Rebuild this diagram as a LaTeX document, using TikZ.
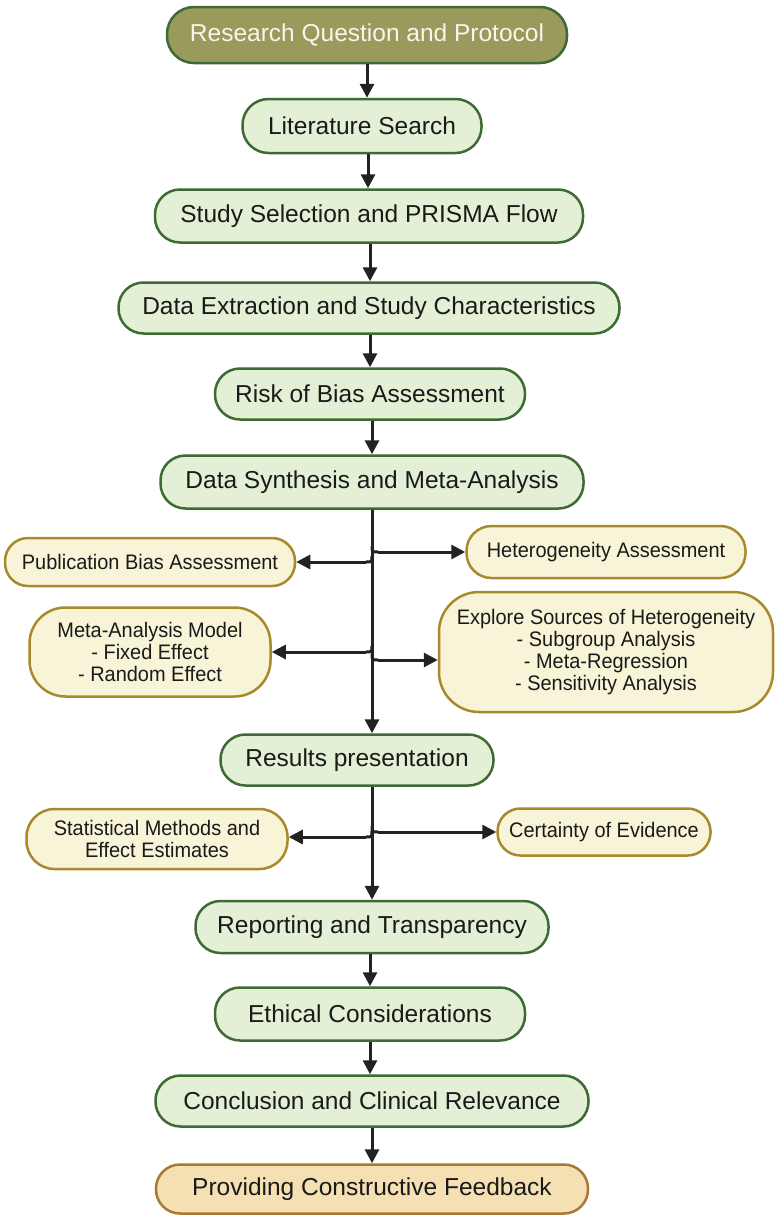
\documentclass[tikz,border=0pt]{standalone}
\usepackage{fontspec}
\setmainfont{Liberation Sans}
\newfontfamily\mainf{Liberation Sans}
\newfontfamily\sidef[FakeStretch=0.95]{Liberation Sans}
\usetikzlibrary{arrows.meta}
\definecolor{mainfill}{HTML}{E3F0D5}
\definecolor{mainborder}{HTML}{3E6B34}
\definecolor{topfill}{HTML}{9B9A5D}
\definecolor{sidefill}{HTML}{F8F4D8}
\definecolor{sideborder}{HTML}{A88A2C}
\definecolor{botfill}{HTML}{F4E0B3}
\definecolor{botborder}{HTML}{A97835}
\definecolor{arrc}{HTML}{222222}
\definecolor{textc}{HTML}{1A1A1A}
\definecolor{toptext}{HTML}{F6F6EC}
\begin{document}
\begin{tikzpicture}[x=1pt,y=-1pt,
 box/.style={draw=mainborder, fill=mainfill, line width=2.5pt, rounded corners=25pt, inner sep=0pt,
   font=\mainf\fontsize{24.5}{27}\selectfont, text=textc, align=center},
 side/.style={draw=sideborder, fill=sidefill, line width=2.5pt, rounded corners=23pt, inner sep=0pt,
   font=\sidef\fontsize{21}{22.2}\selectfont, text=textc, align=center},
 arr/.style={draw=arrc, line width=3pt, -{Triangle[length=14pt,width=14pt]}},
 lnk/.style={draw=arrc, line width=3pt}
]
\useasboundingbox (0,0) rectangle (780,1218);
\fill[white] (0,0) rectangle (780,1218);

\node[box, fill=topfill, text=toptext, minimum width=400pt, minimum height=56pt, rounded corners=27pt] (top) at (367,35) {Research Question and Protocol};
\node[box, minimum width=239pt, minimum height=54pt, rounded corners=26pt] (lit) at (362,126) {Literature Search};
\node[box, minimum width=428pt, minimum height=53pt] (sel) at (369,216) {Study Selection and PRISMA Flow};
\node[box, minimum width=501pt, minimum height=51pt] (ext) at (369,308) {Data Extraction and Study Characteristics};
\node[box, minimum width=310pt, minimum height=51pt] (rob) at (370,394) {Risk of Bias Assessment};
\node[box, minimum width=423pt, minimum height=53pt] (syn) at (372,482) {Data Synthesis and Meta-Analysis};

\node[side, minimum width=290pt, minimum height=48pt] (pub) at (150,562) {Publication Bias Assessment};
\node[side, minimum width=279pt, minimum height=52pt, rounded corners=25pt] (het) at (606,552) {Heterogeneity Assessment};
\node[side, minimum width=241pt, minimum height=89pt, rounded corners=36pt] (mam) at (150,652) {Meta-Analysis Model\\- Fixed Effect\\- Random Effect};
\node[side, minimum width=334pt, minimum height=120pt, rounded corners=40pt] (exp) at (606,652) {Explore Sources of Heterogeneity\\- Subgroup Analysis\\- Meta-Regression\\- Sensitivity Analysis};

\node[box, minimum width=273pt, minimum height=51pt] (res) at (357,760) {Results presentation};
\node[side, minimum width=261pt, minimum height=60pt, rounded corners=28pt] (stat) at (157,839) {Statistical Methods and\\Effect Estimates};
\node[side, minimum width=213pt, minimum height=47pt] (cert) at (604,832) {Certainty of Evidence};

\node[box, minimum width=353pt, minimum height=52pt] (rep) at (372,927) {Reporting and Transparency};
\node[box, minimum width=310pt, minimum height=53pt] (eth) at (370,1014) {Ethical Considerations};
\node[box, minimum width=433pt, minimum height=51pt] (con) at (372,1101) {Conclusion and Clinical Relevance};
\node[box, fill=botfill, draw=botborder, minimum width=432pt, minimum height=49pt, rounded corners=24pt] (fb) at (372,1189) {Providing Constructive Feedback};

% main chain
\draw[arr] (top.south) -- (top.south |- lit.north);
\draw[arr] ([xshift=6pt]lit.south) -- ([xshift=6pt]lit.south |- sel.north);
\draw[arr] ([xshift=1pt]sel.south) -- ([xshift=1pt]sel.south |- ext.north);
\draw[arr] ([xshift=1pt]ext.south) -- ([xshift=1pt]ext.south |- rob.north);
\draw[arr] ([xshift=2pt]rob.south) -- ([xshift=2pt]rob.south |- syn.north);

% trunk 1
\draw[arr] (syn.south) -- (syn.south |- res.north);
\coordinate (b1a) at (372,556); \coordinate (b1b) at (366,562);
\coordinate (b2a) at (372,546); \coordinate (b2b) at (378,552);
\coordinate (b3a) at (372,646); \coordinate (b3b) at (366,652);
\coordinate (b4a) at (372,654); \coordinate (b4b) at (378,660);
\draw[lnk] (b1a) .. controls (372,562) .. (b1b);
\draw[arr] (b1b) -- (pub.east);
\draw[lnk] (b2a) .. controls (372,552) .. (b2b);
\draw[arr] (b2b) -- (het.west);
\draw[lnk] (b3a) .. controls (372,652) .. (b3b);
\draw[arr] (b3b) -- (mam.east);
\draw[lnk] (b4a) .. controls (372,660) .. (b4b);
\draw[arr] (b4b) -- (exp.west |- b4b);

% trunk 2
\coordinate (rs) at (res.south -| syn.south);
\draw[arr] (rs) -- (rs |- rep.north);
\coordinate (c1a) at (372,831); \coordinate (c1b) at (366,837);
\coordinate (c2a) at (372,826); \coordinate (c2b) at (378,832);
\draw[lnk] (c1a) .. controls (372,837) .. (c1b);
\draw[arr] (c1b) -- (stat.east |- c1b);
\draw[lnk] (c2a) .. controls (372,832) .. (c2b);
\draw[arr] (c2b) -- (cert.west);

% lower chain
\draw[arr] ([xshift=-2pt]rep.south) -- ([xshift=-2pt]rep.south |- eth.north);
\draw[arr] (eth.south) -- (eth.south |- con.north);
\draw[arr] (con.south) -- (con.south |- fb.north);
\end{tikzpicture}
\end{document}
